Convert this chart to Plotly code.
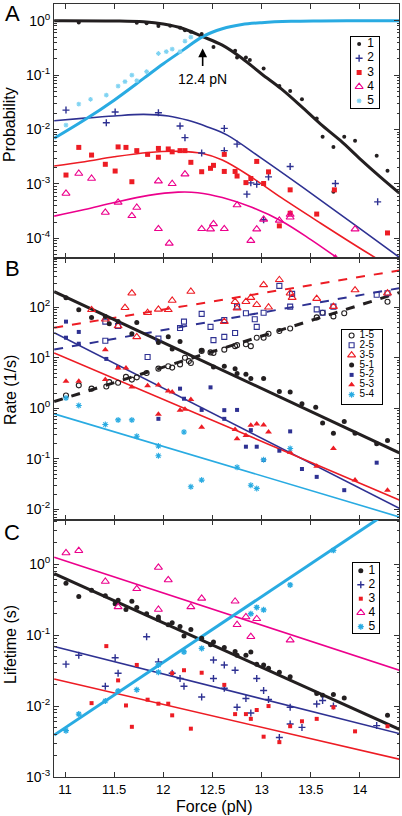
import plotly.graph_objects as go
from plotly.subplots import make_subplots

# ================= DATA =================
# ---- Panel A : Probability ----
a1_x = [11.14, 11.73, 11.83, 11.95, 11.95, 12.07, 12.17, 12.22, 12.28, 12.39, 12.51, 12.73, 12.75, 12.84, 12.88,
        13.02, 13.18, 13.29, 13.41, 13.56, 13.62, 13.73, 13.84, 13.95, 14.17, 14.28, 13.73]
a1_y = [0.93, 0.92, 0.9, 0.87, 0.8, 0.81, 0.74, 0.67, 0.63, 0.57, 0.33, 0.28, 0.21, 0.21, 0.19,
        0.133, 0.063, 0.051, 0.036, 0.016, 0.0074, 0.0048, 0.0074, 0.0062, 0.0033, 0.00175, 0.00072]
a2_x = [11.01, 11.42, 11.51, 11.95, 12.17, 12.22, 12.39, 12.62, 12.62, 12.75, 12.85, 12.89, 12.95, 13.02,
        13.07, 13.29, 13.75, 14.18]
a2_y = [0.0228, 0.0133, 0.021, 0.0204, 0.0116, 0.0071, 0.0037, 0.0105, 0.0041, 0.0054, 0.00065, 0.00105,
        0.00099, 0.00022, 0.00135, 0.0021, 0.00102, 0.00047]
a3_x = [11.01, 11.14, 11.27, 11.41, 11.51, 11.54, 11.62, 11.68, 11.73, 11.84, 11.95, 11.95, 12.05, 12.09,
        12.17, 12.22, 12.28, 12.39, 12.48, 12.51, 12.62, 12.62, 12.73, 12.75, 12.84, 12.89, 12.95, 13.02,
        13.07, 13.18, 13.29, 13.29, 13.56, 13.74, 14.28]
a3_y = [0.00146, 0.0047, 0.0034, 0.0023, 0.00173, 0.0048, 0.0047, 0.0011, 0.0041, 0.0035, 0.0045, 0.0031,
        0.0044, 0.0039, 0.0041, 0.0041, 0.0025, 0.00168, 0.00194, 0.0022, 0.0035, 0.0017, 0.0017, 0.0014,
        0.00106, 0.00126, 0.0026, 0.00102, 0.00167, 0.00017, 0.00078, 0.00029, 0.00028, 0.00078, 0.000126]
a4_x = [11.01, 11.14, 11.27, 11.41, 11.54, 11.68, 11.73, 11.95, 11.95, 12.06, 12.09, 12.22, 12.39, 12.48,
        12.51, 12.62, 12.75, 12.89, 12.95, 13.02, 13.18, 13.29, 13.29, 13.75, 13.95]
a4_y = [0.00067, 0.00156, 0.00126, 0.0003, 0.00046, 0.00026, 0.00037, 0.00113, 0.00015, 0.000081, 0.00101,
        0.00152, 0.00015, 0.000148, 0.000185, 0.00015, 0.00041, 0.000091, 0.000148, 0.000224, 0.000214,
        0.000275, 0.000245, 0.000043, 0.000148]
a5_x = [11.01, 11.14, 11.26, 11.42, 11.54, 11.61, 11.68, 11.73, 11.83, 11.95, 12.03, 12.09, 12.17, 12.22, 12.28]
a5_y = [0.0121, 0.0294, 0.036, 0.043, 0.063, 0.076, 0.1, 0.079, 0.116, 0.25, 0.27, 0.30, 0.27, 0.42, 0.5]

# fitted curves
a1_fit_x = [10.89, 11.5, 11.8, 12.0, 12.2, 12.4, 12.6, 12.8, 13.0, 13.2, 13.4, 13.6, 13.8, 14.0, 14.2, 14.4]
a1_fit_y = [1.0, 0.99, 0.955, 0.87, 0.72, 0.51, 0.355, 0.204, 0.105, 0.056, 0.027, 0.0126, 0.0063, 0.0029,
            0.00138, 0.00068]
a5_fit_x = [10.89, 11.2, 11.5, 11.8, 12.0, 12.2, 12.4, 12.6, 12.8, 13.0, 13.3, 13.6, 14.0, 14.4]
a5_fit_y = [0.0069, 0.0151, 0.0347, 0.087, 0.162, 0.288, 0.51, 0.71, 0.85, 0.92, 0.973, 0.99, 1.0, 1.0]
a2_fit_x = [10.89, 11.2, 11.5, 11.8, 12.05, 12.25, 12.45, 12.65, 13.0, 13.5, 14.0, 14.4]
a2_fit_y = [0.0145, 0.0162, 0.0178, 0.019, 0.0178, 0.0148, 0.0112, 0.0079, 0.00295, 0.00068, 0.000151, 0.000045]
a3_fit_x = [10.89, 11.2, 11.5, 11.85, 12.15, 12.4, 12.6, 12.9, 13.2, 13.6, 14.0, 14.4]
a3_fit_y = [0.00214, 0.00257, 0.00316, 0.0038, 0.00398, 0.00363, 0.00275, 0.00132, 0.00056, 0.00019,
            0.000066, 0.000024]
a4_fit_x = [10.89, 11.2, 11.5, 11.85, 12.15, 12.35, 12.6, 12.9, 13.2, 13.5, 13.8, 14.1]
a4_fit_y = [0.000257, 0.000339, 0.000457, 0.000617, 0.000708, 0.000692, 0.000562, 0.000372, 0.000209,
            0.000095, 0.00004, 0.0000166]

# ---- Panel B : Rate ----
b15_x = [11.01, 11.14, 11.27, 11.42, 11.45, 11.54, 11.62, 11.68, 11.73, 11.83, 11.95, 12.05, 12.09, 12.17,
         12.22, 12.26, 12.28, 12.39, 12.48, 12.51, 12.62, 12.73, 12.75, 12.84, 12.89, 12.95, 13.02, 13.07,
         13.18, 13.29, 13.56, 13.62, 13.73, 13.84, 14.28]
b15_y = [1.8, 2.85, 2.45, 2.7, 3.3, 3.2, 4.2, 3.7, 4.1, 5.0, 6.1, 6.8, 6.4, 7.4, 10.0, 8.6, 7.9, 13.7, 12.8,
         12.5, 14.5, 17.0, 17.8, 18.6, 17.0, 25.0, 25.0, 30.0, 34.0, 38.0, 63.0, 78.0, 66.0, 76.0, 129.0]
b25_x = [11.41, 11.54, 11.41, 11.95, 11.84, 12.17, 12.21, 12.39, 12.48, 12.51, 12.62, 12.62, 12.73, 12.75,
         12.84, 12.93, 12.95, 13.02, 13.18, 13.29, 13.31, 13.56, 13.62, 13.73, 14.17, 14.28]
b25_y = [52, 42.5, 21.7, 24, 10.4, 39, 52, 74, 41, 22.4, 26, 56, 31, 103, 76, 58, 41, 78, 265, 103, 184, 91,
         78, 103, 177, 190]
b35_x = [11.27, 11.41, 11.54, 11.61, 11.68, 11.73, 11.84, 11.95, 12.05, 12.09, 12.28, 12.62, 12.73, 12.75,
         12.84, 12.89, 12.95, 13.02, 13.07, 13.18, 13.29, 13.31, 13.56, 13.73, 13.95, 14.28]
b35_y = [89, 58, 42.5, 98, 190, 26, 78, 91, 89, 136, 205, 52, 129, 96, 129, 155, 112, 277, 100, 350, 190,
         155, 148, 103, 219, 190]
b51_x = [11.01, 11.14, 11.27, 11.41, 11.45, 11.54, 11.68, 11.73, 11.95, 12.05, 12.09, 12.17, 12.39, 12.51,
         12.62, 12.73, 12.75, 12.84, 12.89, 13.02, 13.18, 13.29, 13.41, 13.55, 13.62, 13.73, 13.84, 13.95,
         14.17, 14.28]
b51_y = [155, 89, 63, 66, 47, 52, 30, 50, 20, 26, 15, 21, 14, 6.6, 6.8, 6.1, 4.9, 4.7, 3.9, 3.9, 2.15, 2.1,
         1.23, 1.05, 0.51, 0.32, 0.55, 0.32, 0.2, 0.23]
b52_x = [11.01, 11.14, 11.01, 11.14, 11.42, 11.54, 12.17, 12.48, 12.21, 11.95, 12.39, 12.62, 12.75, 12.62,
         12.89, 12.84, 12.95, 13.02, 13.18, 13.29, 13.41, 13.56, 13.84, 14.17]
b52_y = [52, 32.5, 25, 19, 9.5, 6.5, 2.45, 2.6, 1.55, 0.62, 0.93, 0.92, 0.93, 0.62, 0.37, 0.174, 0.174,
         0.095, 0.145, 0.35, 0.063, 0.044, 0.024, 0.084]
b53_x = [11.01, 11.14, 11.41, 11.41, 11.54, 11.62, 11.68, 11.84, 11.95, 12.05, 12.09, 11.95, 12.17, 12.22,
         12.28, 12.39, 12.73, 12.75, 12.84, 12.89, 12.95, 13.02, 13.07, 13.29, 13.56, 13.73, 13.95, 14.28]
b53_y = [3.45, 3.45, 3.7, 14.5, 6.3, 6.3, 2.63, 2.8, 2.9, 2.2, 2.1, 0.76, 0.92, 0.96, 1.5, 0.42, 0.38, 0.25,
         0.29, 0.46, 0.49, 0.47, 0.34, 0.135, 0.071, 0.16, 0.038, 0.024]
b54_x = [11.01, 11.14, 11.41, 11.54, 11.68, 11.73, 11.95, 11.95, 12.21, 12.28, 12.39, 12.75, 12.89, 12.95,
         13.02, 13.29, 13.74]
b54_y = [1.6, 1.14, 0.48, 0.59, 0.59, 0.28, 0.18, 0.115, 0.34, 0.028, 0.038, 0.068, 0.03, 0.026, 0.096,
         0.16, 0.0041]

b_fit_x = [10.89, 14.4]
b15_fit_y = [1.36, 195]
b25_fit_y = [14.6, 239]
b35_fit_y = [39.3, 537]
b51_fit_y = [204, 0.132]
b52_fit_y = [31.3, 0.0105]
b53_fit_y = [12.5, 0.0153]
b54_fit_y = [0.776, 0.0071]

# ---- Panel C : Lifetime ----
c1_x = [11.01, 11.14, 11.27, 11.41, 11.51, 11.54, 11.62, 11.68, 11.73, 11.83, 11.95, 11.95, 12.05, 12.09,
        12.17, 12.21, 12.28, 12.39, 12.48, 12.51, 12.62, 12.73, 12.75, 12.84, 12.89, 12.95, 13.02, 13.07,
        13.18, 13.29, 13.56, 13.62, 13.73, 13.84, 14.28]
c1_y = [0.54, 0.35, 0.43, 0.36, 0.276, 0.31, 0.23, 0.3, 0.245, 0.2, 0.18, 0.166, 0.14, 0.15, 0.132, 0.097,
        0.12, 0.09, 0.073, 0.08, 0.067, 0.059, 0.052, 0.052, 0.058, 0.039, 0.038, 0.034, 0.030, 0.026,
        0.015, 0.0142, 0.0145, 0.013, 0.0074]
c2_x = [11.01, 11.14, 11.41, 11.51, 11.54, 11.83, 11.95, 12.09, 12.17, 12.21, 12.39, 12.51, 12.51, 12.62,
        12.62, 12.73, 12.75, 12.84, 12.89, 12.95, 13.02, 13.07, 13.18, 13.29, 13.29, 13.41, 13.56, 13.62,
        13.73, 14.17]
c2_y = [0.039, 0.052, 0.019, 0.048, 0.029, 0.095, 0.042, 0.029, 0.0245, 0.019, 0.0134, 0.0445, 0.0245,
        0.038, 0.0178, 0.032, 0.0096, 0.0128, 0.008, 0.0245, 0.0166, 0.0124, 0.0036, 0.0096, 0.0056, 0.005,
        0.0107, 0.012, 0.010, 0.0053]
c3_x = [11.27, 11.42, 11.54, 11.62, 11.68, 11.73, 11.84, 11.95, 12.05, 12.09, 12.09, 12.21, 12.28, 12.39,
        12.62, 12.73, 12.84, 12.89, 12.95, 13.02, 13.07, 13.18, 13.29, 13.41, 13.56, 13.73, 13.95, 14.28]
c3_y = [0.011, 0.070, 0.023, 0.0102, 0.0051, 0.038, 0.0123, 0.0108, 0.0108, 0.0074, 0.029, 0.032, 0.0048,
        0.0295, 0.0199, 0.0077, 0.0077, 0.0066, 0.0088, 0.0037, 0.010, 0.0031, 0.0052, 0.0061, 0.0066,
        0.0096, 0.0044, 0.0052]
c4_x = [11.01, 11.14, 11.41, 11.54, 11.73, 11.95, 11.95, 12.05, 12.28, 12.39, 12.73, 12.75, 12.84, 12.89,
        12.95, 13.29]
c4_y = [1.44, 1.55, 0.57, 0.25, 0.45, 0.9, 0.23, 0.6, 0.25, 0.33, 0.3, 0.14, 0.18, 0.095, 0.17, 0.085]
c5_x = [11.01, 11.14, 11.41, 11.54, 11.73, 11.95, 11.95, 12.21, 12.39, 12.89, 12.95, 13.02, 13.29, 13.73]
c5_y = [0.0045, 0.0077, 0.0118, 0.0163, 0.017, 0.038, 0.03, 0.058, 0.065, 0.2, 0.246, 0.227, 0.51, 1.57]

c_fit_x = [10.89, 14.4]
c1_fit_y = [0.735, 0.0047]
c2_fit_y = [0.069, 0.0041]
c3_fit_y = [0.024, 0.00178]
c4_fit_y = [1.25, 0.032]
c5_fit_y = [0.0039, 6.9]

a_labels = ["1", "2", "3", "4", "5"]
b_labels = ["1-5", "2-5", "3-5", "5-1", "5-2", "5-3", "5-4"]
c_labels = ["1", "2", "3", "4", "5"]

x_ticks = [11, 11.5, 12, 12.5, 13, 13.5, 14]

# ================= STYLE =================
FONT = "Liberation Sans, Arial, Helvetica, sans-serif"
BLACK = "#231F20"
NAVY = "#2E3192"
RED = "#ED1C24"
MAG = "#EC008C"
CYAN = "#29ABE2"
LCYAN = "#7FD3F2"
AX = "#333333"

PLOT_TOP, PLOT_BOT = 4, 777
H = PLOT_BOT - PLOT_TOP


def py2paper(py):
    return (PLOT_BOT - py) / H


def px2paper(px):
    return (px - 54) / 345


fig = make_subplots(rows=3, cols=1, shared_xaxes=True, vertical_spacing=0)


def line(x, y, color, width, row, dash="solid", shape="linear"):
    fig.add_trace(go.Scatter(x=x, y=y, mode="lines", line=dict(color=color, width=width, dash=dash,
                                                                 shape=shape, smoothing=1.0),
                             showlegend=False, hoverinfo="skip"), row=row, col=1)


legend_items = {1: [], 2: [], 3: []}


def pts(x, y, name, marker, row):
    fig.add_trace(go.Scatter(x=x, y=y, mode="markers", name=name, marker=marker, showlegend=False),
                  row=row, col=1)
    legend_items[row].append((name, marker))


M = {
    "a1": dict(symbol="circle", size=4, color=BLACK),
    "a2": dict(symbol="cross-thin", size=5, color=NAVY, line=dict(width=1.4, color=NAVY)),
    "a3": dict(symbol="square", size=5, color=RED),
    "a4": dict(symbol="triangle-up-open", size=7, color=MAG, line=dict(width=1.1)),
    "a5": dict(symbol="asterisk", size=4, color=LCYAN, line=dict(width=1.1, color=LCYAN)),
    "b15": dict(symbol="circle-open", size=5, color=BLACK, line=dict(width=1.1)),
    "b25": dict(symbol="square-open", size=5, color=NAVY, line=dict(width=1.1)),
    "b35": dict(symbol="triangle-up-open", size=7, color=RED, line=dict(width=1.1)),
    "b51": dict(symbol="circle", size=5, color=BLACK),
    "b52": dict(symbol="square", size=4, color=NAVY),
    "b53": dict(symbol="triangle-up", size=6, color=RED),
    "b54": dict(symbol="asterisk", size=5, color=CYAN, line=dict(width=1.1, color=CYAN)),
    "c1": dict(symbol="circle", size=5, color=BLACK),
    "c2": dict(symbol="cross-thin", size=5, color=NAVY, line=dict(width=1.4, color=NAVY)),
    "c3": dict(symbol="square", size=4, color=RED),
    "c4": dict(symbol="triangle-up-open", size=7, color=MAG, line=dict(width=1.1)),
    "c5": dict(symbol="asterisk", size=5, color=CYAN, line=dict(width=1.3, color=CYAN)),
}

# ---- Panel A ----
line(a4_fit_x, a4_fit_y, MAG, 1.6, 1, shape="spline")
line(a3_fit_x, a3_fit_y, RED, 1.6, 1, shape="spline")
line(a2_fit_x, a2_fit_y, NAVY, 1.6, 1, shape="spline")
line(a1_fit_x, a1_fit_y, BLACK, 3, 1, shape="spline")
line(a5_fit_x, a5_fit_y, CYAN, 3, 1, shape="spline")
pts(a1_x, a1_y, a_labels[0], M["a1"], 1)
pts(a2_x, a2_y, a_labels[1], M["a2"], 1)
pts(a3_x, a3_y, a_labels[2], M["a3"], 1)
pts(a4_x, a4_y, a_labels[3], M["a4"], 1)
pts(a5_x, a5_y, a_labels[4], M["a5"], 1)

# ---- Panel B ----
line(b_fit_x, b35_fit_y, RED, 2, 2, dash="dash")
line(b_fit_x, b25_fit_y, NAVY, 2, 2, dash="dash")
line(b_fit_x, b15_fit_y, BLACK, 3, 2, dash="dash")
line(b_fit_x, b52_fit_y, NAVY, 1.6, 2)
line(b_fit_x, b53_fit_y, RED, 1.6, 2)
line(b_fit_x, b54_fit_y, CYAN, 1.6, 2)
line(b_fit_x, b51_fit_y, BLACK, 3, 2)
pts(b15_x, b15_y, b_labels[0], M["b15"], 2)
pts(b25_x, b25_y, b_labels[1], M["b25"], 2)
pts(b35_x, b35_y, b_labels[2], M["b35"], 2)
pts(b51_x, b51_y, b_labels[3], M["b51"], 2)
pts(b52_x, b52_y, b_labels[4], M["b52"], 2)
pts(b53_x, b53_y, b_labels[5], M["b53"], 2)
pts(b54_x, b54_y, b_labels[6], M["b54"], 2)

# ---- Panel C ----
line(c_fit_x, c4_fit_y, MAG, 1.6, 3)
line(c_fit_x, c2_fit_y, NAVY, 1.6, 3)
line(c_fit_x, c3_fit_y, RED, 1.6, 3)
line(c_fit_x, c1_fit_y, BLACK, 3, 3)
line(c_fit_x, c5_fit_y, CYAN, 3, 3)
pts(c1_x, c1_y, c_labels[0], M["c1"], 3)
pts(c2_x, c2_y, c_labels[1], M["c2"], 3)
pts(c3_x, c3_y, c_labels[2], M["c3"], 3)
pts(c4_x, c4_y, c_labels[3], M["c4"], 3)
pts(c5_x, c5_y, c_labels[4], M["c5"], 3)

# ================= AXES =================
doms = {1: [py2paper(258), 1.0], 2: [py2paper(520), py2paper(258)], 3: [0.0, py2paper(520)]}


def sup(n):
    return "10<sup>%d</sup>" % n


ranges = {1: (-4.36, 0.307, range(-4, 1)), 2: (-2.21, 2.975, range(-2, 3)), 3: (-3.0, 0.623, range(-3, 1))}
for r in (1, 2, 3):
    lo, hi, decs = ranges[r]
    decs = list(decs)
    minor_vals = [k * 10.0 ** d for d in range(decs[0] - 1, decs[-1] + 1) for k in range(2, 10)]
    fig.update_yaxes(row=r, col=1, type="log", range=[lo, hi], domain=doms[r],
                     tickmode="array", tickvals=[10.0 ** d for d in decs], ticktext=[sup(d) for d in decs],
                     ticks="inside", ticklen=5, tickwidth=1, tickcolor=AX, mirror="ticks",
                     showline=True, linecolor=AX, linewidth=1, showgrid=False, zeroline=False,
                     automargin=False,
                     tickfont=dict(family=FONT, size=14, color="black"),
                     minor=dict(tickmode="array", tickvals=minor_vals, ticks="inside", ticklen=2.5,
                                tickcolor=AX, showgrid=False))
    fig.update_xaxes(row=r, col=1, range=[10.888, 14.397], tickmode="array", tickvals=x_ticks,
                     ticktext=[("%g" % v) for v in x_ticks],
                     ticks="inside", ticklen=5, tickwidth=1, tickcolor=AX, mirror="ticks",
                     showline=True, linecolor=AX, linewidth=1, showgrid=False, zeroline=False,
                     automargin=False,
                     showticklabels=(r == 3), tickfont=dict(family=FONT, size=13, color="black"))

# ================= LEGEND BOXES (own small axes) =================
# box (left, top, right, bottom) in px, marker column, text column, top/bottom padding in item units
boxes = {
    1: dict(box=(351, 37, 379, 108), mx=0.29, tx=0.58, pad=(0.0, 0.0), size=12),
    2: dict(box=(342, 330, 382, 404), mx=0.24, tx=0.44, pad=(0.05, 0.45), size=10),
    3: dict(box=(353, 563, 379, 633), mx=0.30, tx=0.60, pad=(0.05, -0.05), size=12),
}
for r, spec in boxes.items():
    k = 3 + r
    L, T, R, B = spec["box"]
    items = legend_items[r]
    n = len(items)
    xa, ya = "x%d" % k, "y%d" % k
    fig.update_layout({
        "xaxis%d" % k: dict(domain=[px2paper(L), px2paper(R)], range=[0, 1], anchor=ya,
                            showline=True, mirror=True, linecolor="black", linewidth=1, automargin=False,
                            showticklabels=False, ticks="", showgrid=False, zeroline=False, fixedrange=True),
        "yaxis%d" % k: dict(domain=[py2paper(B), py2paper(T)],
                            range=[n - 0.5 + spec["pad"][1], -0.5 - spec["pad"][0]], anchor=xa,
                            showline=True, mirror=True, linecolor="black", linewidth=1, automargin=False,
                            showticklabels=False, ticks="", showgrid=False, zeroline=False, fixedrange=True),
    })
    for i, (name, marker) in enumerate(items):
        fig.add_trace(go.Scatter(x=[spec["mx"]], y=[i], mode="markers", marker=marker, showlegend=False,
                                 hoverinfo="skip", xaxis=xa, yaxis=ya))
    fig.add_trace(go.Scatter(x=[spec["tx"]] * n, y=list(range(n)), mode="text",
                             text=[nm for nm, _ in items], textposition="middle right",
                             textfont=dict(family=FONT, size=spec["size"], color="black"),
                             showlegend=False, hoverinfo="skip", xaxis=xa, yaxis=ya, cliponaxis=False))

fig.update_layout(
    width=402, height=816, margin=dict(l=54, r=3, t=PLOT_TOP, b=816 - PLOT_BOT),
    paper_bgcolor="white", plot_bgcolor="white", font=dict(family=FONT, color="black"),
    showlegend=False,
)

ann = []
for letter, py in (("A", 13), ("B", 268), ("C", 532)):
    ann.append(dict(text=letter, x=px2paper(12), y=py2paper(py), xref="paper", yref="paper",
                    xanchor="center", yanchor="middle", showarrow=False,
                    font=dict(family=FONT, size=22, color="black")))
for title, py in (("Probability", 125), ("Rate (1/s)", 390), ("Lifetime (s)", 645)):
    ann.append(dict(text=title, x=px2paper(10), y=py2paper(py), xref="paper", yref="paper", textangle=-90,
                    xanchor="center", yanchor="middle", showarrow=False,
                    font=dict(family=FONT, size=16, color="black")))
ann.append(dict(text="Force (pN)", x=px2paper(214), y=py2paper(806), xref="paper", yref="paper",
                xanchor="center", yanchor="middle", showarrow=False,
                font=dict(family=FONT, size=16, color="black")))
ann.append(dict(text="12.4 pN", x=12.4, y=-0.51, xref="x", yref="y", ax=0, ay=31,
                showarrow=True, arrowhead=2, arrowsize=1.1, arrowwidth=1.6, arrowcolor="black",
                startstandoff=4, font=dict(family=FONT, size=14, color="black")))
fig.update_layout(annotations=ann)

fig.write_html("out.html", config={"displayModeBar": False},
               post_script="document.body.style.margin='0px';document.body.style.overflow='hidden';")
